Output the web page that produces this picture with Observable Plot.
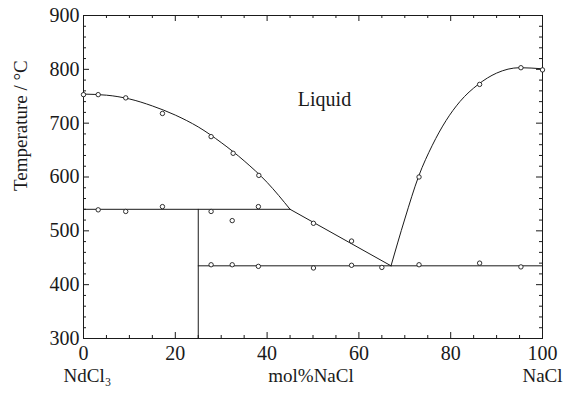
<!DOCTYPE html>
<html>
<head>
<meta charset="utf-8">
<script src="https://cdn.jsdelivr.net/npm/d3@7"></script>
<script src="https://cdn.jsdelivr.net/npm/@observablehq/plot@0.6"></script>
<style>
  html, body { margin: 0; padding: 0; background: white; }
</style>
</head>
<body>
<div id="chart"></div>
<script>
// ---- data (mol% NaCl, temperature / °C) ----
const liquidusPtsX = [0, 3.2, 9.2, 17.2, 27.8, 32.6, 38.2, 50.1, 58.4, 73.1, 86.3, 95.3, 100];
const liquidusPtsT = [753, 753, 747, 718, 675, 644, 603, 514, 481, 600, 772, 803, 799];

const solidus540X = [3.2, 9.2, 17.2, 27.8, 32.4, 38.1];
const solidus540T = [539, 536, 545, 536, 519, 545];

const eutecticPtsX = [27.8, 32.4, 38.1, 50.1, 58.4, 65, 73.1, 86.3, 95.3];
const eutecticPtsT = [437, 437, 434, 431, 436, 432, 437, 440, 433];

// fitted curves
const leftCurveX = [0, 5, 10, 15, 20, 25, 30, 35, 40, 45];
const leftCurveT = [754, 752, 745, 732, 715, 693, 664, 630, 590, 540];

const middleLineX = [45, 67];
const middleLineT = [540, 435];

const rightCurveX = [67, 70, 73, 76, 79, 82, 86, 90, 95, 100];
const rightCurveT = [435, 522, 601, 659, 705, 740, 772, 793, 803, 801];

const peritecticX = [0, 45];
const peritecticT = [540, 540];
const compoundX = [25, 25];
const compoundT = [540, 300];
const eutecticLineX = [25, 100];
const eutecticLineT = [435, 435];

// ticks
const xMajorTicks = [0, 20, 40, 60, 80, 100];
const xMinorTicks = [5, 10, 15, 25, 30, 35, 45, 50, 55, 65, 70, 75, 85, 90, 95];
const yMajorTicks = [300, 400, 500, 600, 700, 800, 900];
const yMinorTicks = [320, 340, 360, 380, 420, 440, 460, 480, 520, 540, 560, 580, 620, 640, 660, 680, 720, 740, 760, 780, 820, 840, 860, 880];

const toRows = (xs, ts) => xs.map((x, i) => ({x, t: ts[i]}));

const W = 565, H = 393, ML = 83, MR = 23, MT = 15, MB = 55;
const PW = W - ML - MR, PH = H - MT - MB;

const ink = "#1a1a1a";
const lineStyle = {x: "x", y: "t", stroke: ink, strokeWidth: 1};
const tickStyle = {stroke: ink, strokeWidth: 1};

const chart = Plot.plot({
  width: W,
  height: H,
  marginLeft: ML,
  marginRight: MR,
  marginTop: MT,
  marginBottom: MB,
  x: {domain: [0, 100]},
  y: {domain: [300, 900]},
  style: {fontFamily: "'Liberation Serif', 'Times New Roman', serif", fontSize: "20px", color: ink, background: "white"},
  marks: [
    // inward ticks on all four sides
    Plot.tickX(xMajorTicks, {x: d => d, insetTop: PH - 6, ...tickStyle}),
    Plot.tickX(xMinorTicks, {x: d => d, insetTop: PH - 3, ...tickStyle}),
    Plot.tickX(xMajorTicks, {x: d => d, insetBottom: PH - 6, ...tickStyle}),
    Plot.tickX(xMinorTicks, {x: d => d, insetBottom: PH - 3, ...tickStyle}),
    Plot.tickY(yMajorTicks, {y: d => d, insetRight: PW - 6, ...tickStyle}),
    Plot.tickY(yMinorTicks, {y: d => d, insetRight: PW - 3, ...tickStyle}),
    Plot.tickY(yMajorTicks, {y: d => d, insetLeft: PW - 6, ...tickStyle}),
    Plot.tickY(yMinorTicks, {y: d => d, insetLeft: PW - 3, ...tickStyle}),
    // tick labels
    Plot.axisX(xMajorTicks, {anchor: "bottom", tickSize: 0, tickPadding: 7, fontSize: 20, label: null}),
    Plot.axisY(yMajorTicks, {anchor: "left", tickSize: 0, tickPadding: 4, fontSize: 20, label: null}),
    Plot.frame({stroke: ink, strokeWidth: 1}),
    // phase boundaries
    Plot.line(toRows(leftCurveX, leftCurveT), {...lineStyle, curve: "monotone-x"}),
    Plot.line(toRows(middleLineX, middleLineT), lineStyle),
    Plot.line(toRows(rightCurveX, rightCurveT), {...lineStyle, curve: "monotone-x"}),
    Plot.line(toRows(peritecticX, peritecticT), lineStyle),
    Plot.line(toRows(compoundX, compoundT), lineStyle),
    Plot.line(toRows(eutecticLineX, eutecticLineT), lineStyle),
    // measured points
    Plot.dot(toRows(liquidusPtsX, liquidusPtsT), {x: "x", y: "t", r: 2.2, stroke: ink, fill: "white", strokeWidth: 0.9}),
    Plot.dot(toRows(solidus540X, solidus540T), {x: "x", y: "t", r: 2.2, stroke: ink, fill: "white", strokeWidth: 0.9}),
    Plot.dot(toRows(eutecticPtsX, eutecticPtsT), {x: "x", y: "t", r: 2.2, stroke: ink, fill: "white", strokeWidth: 0.9}),
    // labels
    Plot.text(["Liquid"], {x: 52.5, y: 743, fontSize: 20, fill: ink}),
    Plot.text(["Temperature / °C"], {frameAnchor: "left", rotate: -90, dx: -63, dy: 14, fontSize: 19, fill: ink}),
    Plot.text(["NdCl₃"], {frameAnchor: "bottom-left", textAnchor: "start", dx: -20, dy: 43, fontSize: 19, fill: ink}),
    Plot.text(["mol%NaCl"], {frameAnchor: "bottom", dx: -2, dy: 43, fontSize: 19, fill: ink}),
    Plot.text(["NaCl"], {frameAnchor: "bottom-right", textAnchor: "middle", dy: 43, fontSize: 19, fill: ink})
  ]
});

document.getElementById("chart").appendChild(chart);
</script>
</body>
</html>
